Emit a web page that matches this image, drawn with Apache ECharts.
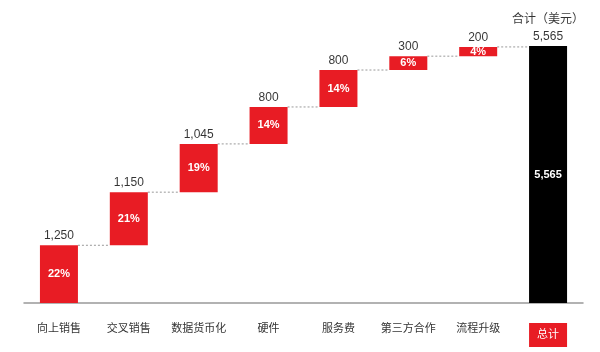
<!DOCTYPE html>
<html>
<head>
<meta charset="utf-8">
<style>
  html, body { margin: 0; padding: 0; background: #fff; }
  #chart { width: 600px; height: 352px; }
</style>
<script src="https://cdn.jsdelivr.net/npm/echarts@6/dist/echarts.min.js"></script>
</head>
<body>
<div id="chart"></div>
<script>
// 分类
const categories = ['向上销售', '交叉销售', '数据货币化', '硬件', '服务费', '第三方合作', '流程升级', '总计']
// 各项金额（美元）
const values = [1250, 1150, 1045, 800, 800, 300, 200, 5565]
// 占比
const percents = ['22%', '21%', '19%', '14%', '14%', '6%', '4%', '']
const totalTitle = '合计（美元）'

const FONT = "'Liberation Sans', 'Noto Sans CJK SC', sans-serif"
const RED = '#e81c24'
const BAR_W = 38

// 瀑布图底座（透明）和每根柱子顶端
const base = []
const tops = []
let sum = 0
values.forEach((v, i) => {
  if (i === values.length - 1) {
    base.push(0)
    tops.push(v)
  } else {
    base.push(sum)
    sum += v
    tops.push(sum)
  }
})

const fmt = v => v.toLocaleString('en-US')

const chart = echarts.init(document.getElementById('chart'))
chart.setOption({
  animation: false,
  textStyle: { fontFamily: FONT },
  grid: { left: 24, right: 17, top: 46, bottom: 49 },
  xAxis: {
    type: 'category',
    data: categories,
    axisLine: { lineStyle: { color: '#999', width: 1.5 } },
    axisTick: { show: false },
    axisLabel: {
      interval: 0,
      margin: 20,
      fontSize: 11,
      color: '#333',
      formatter(value, index) {
        if (index === categories.length - 1) return `{total|${value}}`
        return value
      },
      rich: {
        total: {
          color: '#fff',
          fontSize: 11,
          backgroundColor: RED,
          padding: [6, 8, 7, 8]
        }
      }
    }
  },
  yAxis: {
    type: 'value',
    min: 0,
    max: 5565,
    show: false,
    splitLine: { show: false }
  },
  series: [
    {
      type: 'bar',
      stack: 'wf',
      barWidth: BAR_W,
      itemStyle: { color: 'transparent' },
      data: base,
      silent: true
    },
    {
      type: 'bar',
      stack: 'wf',
      barWidth: BAR_W,
      data: values.map((v, i) => ({
        value: v,
        itemStyle: { color: i === values.length - 1 ? '#000' : RED }
      })),
      label: {
        show: true,
        position: 'inside',
        color: '#fff',
        fontSize: 11,
        fontWeight: 'bold',
        formatter(p) {
          if (p.dataIndex === values.length - 1) return fmt(p.value)
          return percents[p.dataIndex]
        }
      }
    },
    {
      // 顶部数值标签
      type: 'scatter',
      symbolSize: 0,
      data: tops,
      label: {
        show: true,
        position: 'top',
        distance: 1,
        color: '#000',
        fontSize: 12,
        lineHeight: 17,
        formatter(p) {
          if (p.dataIndex === values.length - 1) return `${totalTitle}\n${fmt(values[p.dataIndex])}`
          return fmt(values[p.dataIndex])
        }
      }
    },
    {
      // 虚线连接
      type: 'custom',
      data: tops.slice(0, tops.length - 1).map((t, i) => [i, t]),
      renderItem(params, api) {
        const i = api.value(0)
        const t = api.value(1)
        const p1 = api.coord([i, t])
        const p2 = api.coord([i + 1, t])
        return {
          type: 'line',
          shape: { x1: p1[0] + BAR_W / 2, y1: p1[1], x2: p2[0] - BAR_W / 2, y2: p2[1] },
          style: { stroke: '#999', lineWidth: 1, lineDash: [2, 2] }
        }
      }
    }
  ]
})
</script>
</body>
</html>
